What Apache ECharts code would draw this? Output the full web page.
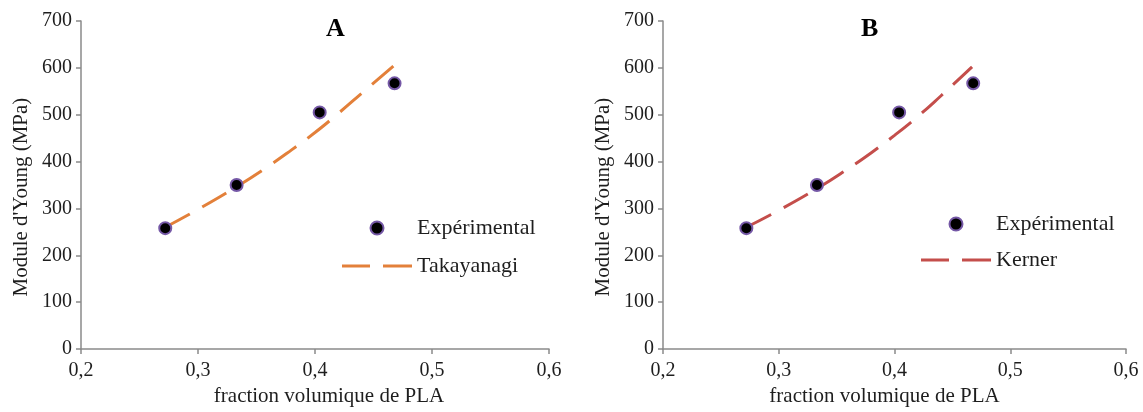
<!DOCTYPE html>
<html>
<head>
<meta charset="utf-8">
<script src="https://cdn.jsdelivr.net/npm/echarts@6/dist/echarts.min.js"></script>
<style>html,body{margin:0;padding:0;background:#fff}#c{width:1143px;height:412px}</style>
</head>
<body>
<div id="c"></div>
<script>
// Experimental data (both panels)
const expX = [0.272, 0.333, 0.404, 0.468];
const expY = [258, 350, 505, 567];
const expErr = [0, 8, 0, 0];
// Takayanagi model curve (panel A)
const takX = [0.272, 0.30, 0.334, 0.36, 0.38, 0.40, 0.42, 0.44, 0.468];
const takY = [260, 298, 348, 390, 425, 462, 503, 546, 606];
// Kerner model curve (panel B)
const kerX = [0.272, 0.30, 0.334, 0.36, 0.38, 0.40, 0.42, 0.44, 0.467];
const kerY = [260, 296, 344, 385, 419, 456, 496, 540, 602];
const panelTitles = ['A', 'B'];
const modelNames = ['Takayanagi', 'Kerner'];
const xName = 'fraction volumique de PLA';
const yName = "Module d'Young (MPa)";

const zip = (xs, ys) => xs.map((x, i) => [x, ys[i]]);
const FONT = 'Liberation Serif';
const TXT = '#1e1e1e';
const AX = '#8a8a8a';
const DASH_ICON = 'path://M0,0L28,0L28,3L0,3Z M41,0L70,0L70,3L41,3Z';

function xAxis(idx, pad) {
  return {
    gridIndex: idx, type: 'value', min: 0.2, max: 0.6, interval: 0.1,
    name: xName, nameLocation: 'middle', nameGap: 32,
    nameTextStyle: {fontFamily: FONT, fontSize: 21, color: TXT, padding: pad},
    axisLine: {lineStyle: {color: AX, width: 1.5}},
    axisTick: {show: true, length: 5, lineStyle: {color: AX, width: 1.5}},
    axisLabel: {fontFamily: FONT, fontSize: 20, color: TXT, margin: 12,
      formatter: v => v.toFixed(1).replace('.', ',')},
    splitLine: {show: false}
  };
}
function yAxis(idx) {
  return {
    gridIndex: idx, type: 'value', min: 0, max: 700, interval: 100,
    name: yName, nameLocation: 'middle', nameGap: 49, nameRotate: 90,
    nameTextStyle: {fontFamily: FONT, fontSize: 21, color: TXT, padding: [0, 24, 0, 0]},
    axisLine: {show: true, lineStyle: {color: AX, width: 1.5}},
    axisTick: {show: true, length: 5, lineStyle: {color: AX, width: 1.5}},
    axisLabel: {fontFamily: FONT, fontSize: 20, color: TXT, margin: 9},
    splitLine: {show: false}
  };
}
const expStyle = {
  type: 'scatter', symbol: 'circle', symbolSize: 12,
  itemStyle: {color: '#000', borderColor: '#7558a6', borderWidth: 2, opacity: 1}, z: 10
};
function legend(left, top, gap, model) {
  return {
    orient: 'vertical', left: left, top: top, itemWidth: 70, itemHeight: 13,
    itemGap: gap, padding: 0,
    data: ['Expérimental', {name: model, icon: DASH_ICON}],
    textStyle: {fontFamily: FONT, fontSize: 22, color: TXT, lineHeight: 22},
    selectedMode: false
  };
}
function errSeries(idx) {
  return {
    type: 'custom', xAxisIndex: idx, yAxisIndex: idx, z: 1, silent: true,
    data: expX.map((x, i) => [x, expY[i] - expErr[i], expY[i] + expErr[i]]),
    renderItem: (params, api) => {
      const lo = api.coord([api.value(0), api.value(1)]);
      const hi = api.coord([api.value(0), api.value(2)]);
      if (Math.abs(hi[1] - lo[1]) < 2) return null;
      const w = 5;
      const st = {stroke: '#000', lineWidth: 1.2};
      return {type: 'group', children: [
        {type: 'line', shape: {x1: lo[0], y1: lo[1], x2: hi[0], y2: hi[1]}, style: st},
        {type: 'line', shape: {x1: lo[0] - w, y1: lo[1], x2: lo[0] + w, y2: lo[1]}, style: st},
        {type: 'line', shape: {x1: hi[0] - w, y1: hi[1], x2: hi[0] + w, y2: hi[1]}, style: st}
      ]};
    }
  };
}

const chart = echarts.init(document.getElementById('c'), null, {renderer: 'canvas'});
chart.setOption({
  backgroundColor: '#fff',
  animation: false,
  title: [
    {text: panelTitles[0], left: 326, top: 16, padding: 0,
      textStyle: {fontFamily: FONT, fontSize: 26, fontWeight: 'bold', color: '#000'}},
    {text: panelTitles[1], left: 861, top: 16, padding: 0,
      textStyle: {fontFamily: FONT, fontSize: 26, fontWeight: 'bold', color: '#000'}}
  ],
  grid: [
    {left: 81, top: 21, width: 468, height: 337},
    {left: 663, top: 21, width: 463, height: 337}
  ],
  xAxis: [xAxis(0, [0, 0, 0, 28]), xAxis(1, [0, 20, 0, 0])],
  yAxis: [yAxis(0), yAxis(1)],
  legend: [legend(342, 217, 16, modelNames[0]), legend(921, 213, 14, modelNames[1])],
  series: [
    {name: modelNames[0], type: 'line', xAxisIndex: 0, yAxisIndex: 0, smooth: true,
      symbol: 'none', data: zip(takX, takY), color: '#e3803a', z: 3,
      lineStyle: {color: '#e3803a', width: 3, type: [28, 14]}},
    errSeries(0),
    Object.assign({name: 'Expérimental', xAxisIndex: 0, yAxisIndex: 0, data: zip(expX, expY)}, expStyle),
    {name: modelNames[1], type: 'line', xAxisIndex: 1, yAxisIndex: 1, smooth: true,
      symbol: 'none', data: zip(kerX, kerY), color: '#c44e4b', z: 3,
      lineStyle: {color: '#c44e4b', width: 3, type: [28, 14]}},
    errSeries(1),
    Object.assign({name: 'Expérimental', xAxisIndex: 1, yAxisIndex: 1, data: zip(expX, expY)}, expStyle)
  ]
});
</script>
</body>
</html>
